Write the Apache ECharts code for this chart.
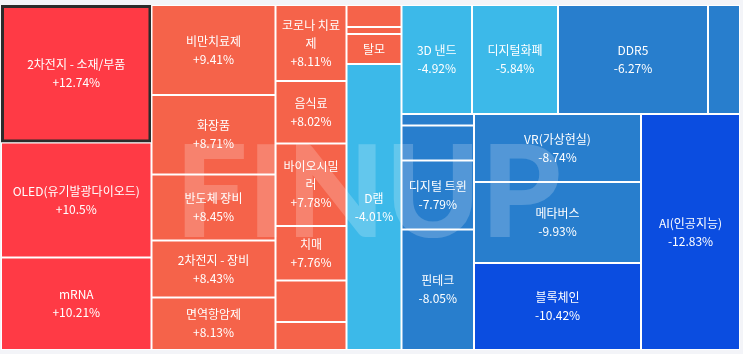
<!DOCTYPE html>
<html>
<head>
<meta charset="utf-8">
<script src="https://cdn.jsdelivr.net/npm/echarts@6/dist/echarts.min.js"></script>
<style>
  html, body { margin: 0; padding: 0; background: #f3f4f8; }
  #chart { width: 743px; height: 354px; }
</style>
</head>
<body>
<div id="chart"></div>
<script>
// theme name, daily change (%), size
const names = [
  '2차전지 - 소재/부품', 'OLED(유기발광다이오드)', 'mRNA',
  '비만치료제', '화장품', '반도체 장비', '2차전지 - 장비', '면역항암제',
  '코로나 치료제', '음식료', '바이오시밀러', '치매', '', '',
  '', '', '탈모', 'D램',
  '3D 낸드', '디지털화폐', 'DDR5', '',
  '', '', '디지털 트윈', '핀테크',
  'VR(가상현실)', '메타버스', '블록체인', 'AI(인공지능)'
];
const changes = [
  12.74, 10.5, 10.21,
  9.41, 8.71, 8.45, 8.43, 8.13,
  8.11, 8.02, 7.78, 7.76, 7.6, 7.45,
  7.3, 7.1, 6.9, -4.01,
  -4.92, -5.84, -6.27, -6.5,
  -7.0, -7.4, -7.79, -8.05,
  -8.74, -9.93, -10.42, -12.83
];
const sizes = [
  20694, 17308, 13921,
  11160, 9858, 8184, 7068, 6510,
  5396, 4438, 5858, 3870, 2947, 1988,
  1210, 385, 1650, 15730,
  7685, 9374, 16350, 3488,
  834, 2538, 5003, 8736,
  11356, 13527, 14529, 23364
];
// how the cells are nested (indices into the arrays above)
const groups = [
  [0, 1, 2],
  [[[[3, 4], 5], 6], 7],
  [[[[[8, 9], 10], 11], 12], 13],
  [14, 15, 16, 17],
  [[18, 19, 20, 21], [[22, 23, 24, 25], [26, 27, 28], 29]]
];
const selected = 0;

function colorFor(c) {
  if (c >= 10) return '#ff3a45';
  if (c > 0) return '#f5634a';
  if (c > -6) return '#3cb9e9';
  if (c > -10) return '#287ecd';
  return '#0b4de0';
}

function build(node) {
  if (Array.isArray(node)) return { name: '', children: node.map(build) };
  const color = colorFor(changes[node]);
  return {
    name: names[node],
    value: sizes[node],
    change: changes[node],
    itemStyle: node === selected
      ? { color: color, borderColor: '#2b2b2b', borderWidth: 3 }
      : { color: color, borderColor: '#fff', borderWidth: 1 }
  };
}

const chart = echarts.init(document.getElementById('chart'));

chart.setOption({
  animation: false,
  graphic: [{
    type: 'text',
    z: 100,
    silent: true,
    style: {
      text: 'FINUP',
      x: 368,
      y: 196,
      align: 'center',
      verticalAlign: 'middle',
      font: '900 128px Lato',
      fill: 'rgba(255,255,255,0.2)'
    }
  }],
  series: [{
    type: 'treemap',
    left: 1,
    top: 5,
    width: 739,
    height: 345,
    roam: false,
    nodeClick: false,
    breadcrumb: { show: false },
    sort: false,
    squareRatio: 0.001,
    visibleMin: 0,
    itemStyle: { borderWidth: 0, gapWidth: 0 },
    upperLabel: { show: false },
    label: {
      show: true,
      position: 'inside',
      color: '#fff',
      fontFamily: 'Noto Sans CJK KR',
      fontSize: 12,
      lineHeight: 18,
      padding: [0, 2],
      overflow: 'break',
      formatter: function (p) {
        if (!p.data.name) return '';
        const c = p.data.change;
        return p.data.name + '\n' + (c > 0 ? '+' : '') + c + '%';
      }
    },
    data: groups.map(build)
  }]
});
</script>
</body>
</html>
